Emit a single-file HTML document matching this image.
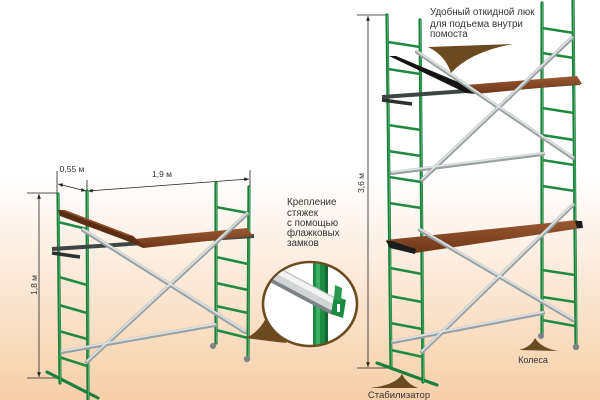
<!DOCTYPE html>
<html><head><meta charset="utf-8">
<style>
html,body{margin:0;padding:0;}
body{width:600px;height:400px;overflow:hidden;background:linear-gradient(to bottom,#ffffff 0px,#ffffff 175px,#fcebdc 270px,#f8dcbf 340px,#f5cfa8 400px);}
svg{position:absolute;left:0;top:0;}
text{font-family:"Liberation Sans",sans-serif;fill:#333;}
</style></head>
<body>
<svg width="600" height="400" viewBox="0 0 600 400" xmlns="http://www.w3.org/2000/svg">
<defs>
<marker id="ar" viewBox="0 0 10 10" refX="10" refY="5" markerWidth="6" markerHeight="6" orient="auto-start-reverse">
<path d="M0,1 L10,5 L0,9 Z" fill="#222"/>
</marker>
<linearGradient id="wood" x1="0" y1="0" x2="0" y2="1">
<stop offset="0" stop-color="#9a5a32"/><stop offset="1" stop-color="#6e3618"/>
</linearGradient>
<linearGradient id="tube" x1="0" y1="0" x2="1" y2="1">
<stop offset="0" stop-color="#f2f2f2"/><stop offset="0.5" stop-color="#d8dadb"/><stop offset="1" stop-color="#8f9597"/>
</linearGradient>
<clipPath id="mag"><ellipse cx="310" cy="304" rx="46" ry="41"/></clipPath>
</defs>

<!-- ===== Dimension lines left ===== -->
<g stroke="#222" stroke-width="0.8" fill="none">
<line x1="57" y1="171" x2="57" y2="193"/>
<line x1="87" y1="180" x2="87" y2="192"/>
<line x1="250" y1="170" x2="250" y2="187"/>
<line x1="58" y1="184" x2="86" y2="191" marker-start="url(#ar)" marker-end="url(#ar)"/>
<line x1="88" y1="191" x2="249" y2="179" marker-start="url(#ar)" marker-end="url(#ar)"/>
<line x1="27" y1="193" x2="58" y2="193"/>
<line x1="27" y1="378" x2="62" y2="378"/>
<line x1="39" y1="194" x2="39" y2="377" marker-start="url(#ar)" marker-end="url(#ar)"/>
<!-- right dims -->
<line x1="357" y1="15" x2="388" y2="15"/>
<line x1="357" y1="368" x2="392" y2="368"/>
<line x1="368" y1="16" x2="368" y2="367" marker-start="url(#ar)" marker-end="url(#ar)"/>
</g>
<text x="72" y="172" font-size="8.5" text-anchor="middle">0,55 м</text>
<text x="162" y="177" font-size="8.5" text-anchor="middle">1,9 м</text>
<text x="0" y="0" font-size="8.5" text-anchor="middle" transform="translate(37,285) rotate(-90)">1,8 м</text>
<text x="0" y="0" font-size="8.5" text-anchor="middle" transform="translate(364,183) rotate(-90)">3,6 м</text>

<!-- ===== LEFT SCAFFOLD ===== -->
<!-- frames -->
<g stroke="#1d7f3c" stroke-width="3.2" stroke-linecap="round">
<line x1="58" y1="194" x2="60" y2="383"/>
<line x1="87" y1="191" x2="88" y2="400"/>
<line x1="216" y1="183" x2="216" y2="343"/>
<line x1="249" y1="187" x2="248" y2="356"/>
<line x1="47" y1="372" x2="98" y2="398"/>
</g>
<g stroke="#1f8a40" stroke-width="2.6">
<line x1="58" y1="222" x2="87" y2="229"/>
<line x1="59" y1="277" x2="87" y2="285"/>
<line x1="59" y1="305" x2="87" y2="313"/>
<line x1="59" y1="331" x2="87" y2="339"/>
<line x1="59" y1="357" x2="87" y2="366"/>
<line x1="216" y1="207" x2="248" y2="213"/>
<line x1="216" y1="257" x2="248" y2="264"/>
<line x1="216" y1="283" x2="248" y2="290"/>
<line x1="216" y1="306" x2="248" y2="313"/>
<line x1="216" y1="330" x2="248" y2="338"/>
</g>
<g stroke="#4fb870" stroke-width="0.8">
<line x1="58.5" y1="194" x2="60.5" y2="383"/>
<line x1="87.5" y1="191" x2="88.5" y2="400"/>
<line x1="216.5" y1="183" x2="216.5" y2="343"/>
<line x1="249.5" y1="187" x2="248.5" y2="356"/>
</g>
<circle cx="213" cy="346" r="3" fill="#7c8486"/>
<circle cx="247" cy="359" r="3.2" fill="#7c8486"/>
<!-- platform -->
<line x1="52" y1="249" x2="254" y2="236" stroke="#3b4645" stroke-width="4"/>
<line x1="52" y1="253" x2="80" y2="257" stroke="#2a3231" stroke-width="3.5"/>
<polygon points="125,240 247,228 253,236 143,248" fill="url(#wood)"/>
<polygon points="58,210 64,210 133,236 146,248 60,216" fill="#5a2e14"/>
<polygon points="60,210 65,210 133,236 128,236" fill="#8a4e2a"/>
<!-- braces -->
<g stroke="#9aa1a2" stroke-width="4" stroke-linecap="round">
<line x1="83" y1="230" x2="245" y2="332"/>
<line x1="87" y1="362" x2="247" y2="214"/>
<line x1="62" y1="352" x2="215" y2="325"/>
</g>
<g stroke="#dde1e1" stroke-width="1.8" stroke-linecap="round">
<line x1="83" y1="229" x2="245" y2="331"/>
<line x1="87" y1="361" x2="247" y2="213"/>
<line x1="62" y1="351" x2="215" y2="324"/>
</g>

<!-- ===== RIGHT SCAFFOLD ===== -->
<g stroke="#1d7f3c" stroke-width="3.2" stroke-linecap="round">
<line x1="387" y1="15" x2="391" y2="367"/>
<line x1="420" y1="20" x2="423" y2="382"/>
<line x1="542" y1="3" x2="542" y2="333"/>
<line x1="573" y1="0" x2="576" y2="345"/>
<line x1="377" y1="363" x2="437" y2="385"/>
</g>
<g stroke="#1f8a40" stroke-width="2.6">
<line x1="388" y1="42" x2="420" y2="47"/>
<line x1="388" y1="69" x2="420" y2="74"/>
<line x1="388" y1="125" x2="421" y2="130"/>
<line x1="388" y1="151" x2="421" y2="156"/>
<line x1="389" y1="177" x2="421" y2="182"/>
<line x1="389" y1="203" x2="421" y2="208"/>
<line x1="390" y1="268" x2="422" y2="274"/>
<line x1="390" y1="296" x2="422" y2="302"/>
<line x1="390" y1="323" x2="422" y2="329"/>
<line x1="391" y1="350" x2="423" y2="357"/>
<line x1="542" y1="28" x2="574" y2="33"/>
<line x1="542" y1="53" x2="574" y2="58"/>
<line x1="542" y1="108" x2="574" y2="113"/>
<line x1="542" y1="135" x2="574" y2="140"/>
<line x1="542" y1="160" x2="574" y2="165"/>
<line x1="542" y1="186" x2="575" y2="191"/>
<line x1="542" y1="270" x2="575" y2="275"/>
<line x1="542" y1="297" x2="575" y2="302"/>
<line x1="542" y1="320" x2="575" y2="326"/>
</g>
<g stroke="#4fb870" stroke-width="0.8">
<line x1="387.5" y1="15" x2="391.5" y2="367"/>
<line x1="420.5" y1="20" x2="423.5" y2="382"/>
<line x1="542.5" y1="3" x2="542.5" y2="333"/>
<line x1="573.5" y1="0" x2="576.5" y2="345"/>
</g>
<circle cx="541" cy="336" r="3" fill="#7c8486"/>
<circle cx="576" cy="347" r="3.2" fill="#7c8486"/>
<!-- upper platform -->
<line x1="382" y1="97" x2="580" y2="83" stroke="#3b4645" stroke-width="4"/>
<line x1="382" y1="100" x2="412" y2="104" stroke="#2a3231" stroke-width="3.5"/>
<polygon points="466,85 577,76 582,84 475,94" fill="url(#wood)"/>
<polygon points="389,56 396,56 470,87 476,94 466,93" fill="#141414"/>
<!-- lower platform -->
<polygon points="386,240 577,220 582,228 415,253 390,247" fill="url(#wood)"/>
<polygon points="386,241 392,241 416,249 415,254 390,248" fill="#1c1c1c"/>
<polygon points="575,221 582,221 583,228 577,228" fill="#1c1c1c"/>
<!-- braces -->
<g stroke="#9aa1a2" stroke-width="4" stroke-linecap="round">
<line x1="417" y1="52" x2="573" y2="158"/>
<line x1="422" y1="180" x2="572" y2="38"/>
<line x1="392" y1="173" x2="543" y2="154"/>
<line x1="420" y1="230" x2="573" y2="320"/>
<line x1="422" y1="352" x2="573" y2="205"/>
<line x1="393" y1="342" x2="543" y2="313"/>
</g>
<g stroke="#dde1e1" stroke-width="1.8" stroke-linecap="round">
<line x1="417" y1="51" x2="573" y2="157"/>
<line x1="422" y1="179" x2="572" y2="37"/>
<line x1="392" y1="172" x2="543" y2="153"/>
<line x1="420" y1="229" x2="573" y2="319"/>
<line x1="422" y1="351" x2="573" y2="204"/>
<line x1="393" y1="341" x2="543" y2="312"/>
</g>

<!-- ===== Pointers ===== -->
<path d="M428,47 L513,44 Q470,52 451,73 Q445,55 428,47 Z" fill="#6b4a20"/>
<path d="M519,350 Q531,347 535,338 Q541,348 558,351 Z" fill="#6b4a20"/>
<path d="M370,388 Q396,385 402,374 Q407,384 418,388 Z" fill="#6b4a20"/>

<!-- ===== Magnifier ===== -->
<path d="M266,318 Q259,332 246,338 Q268,341 287,343 Z" fill="#6b4a20"/>
<ellipse cx="310" cy="304" rx="47" ry="42" fill="#ffffff" stroke="#6b4a20" stroke-width="2.6"/>
<g clip-path="url(#mag)">
<rect x="313" y="255" width="15" height="100" fill="#1c8a42"/>
<rect x="316" y="255" width="4" height="100" fill="#3fae66"/>
<rect x="325" y="255" width="3" height="100" fill="#146a32"/>
<line x1="258" y1="266" x2="333" y2="306" stroke="#7d8486" stroke-width="17" stroke-linecap="round"/>
<line x1="258" y1="264" x2="333" y2="304" stroke="#d2d5d6" stroke-width="13" stroke-linecap="round"/>
<line x1="258" y1="261" x2="333" y2="301" stroke="#f4f4f4" stroke-width="5" stroke-linecap="round"/>
<polygon points="334,296 346,300 343,318 331,314" fill="#1c8a42"/>
<polygon points="335,285 342,288 341,302 334,299" fill="#2a9a50"/>
<rect x="337" y="304" width="3" height="8" fill="#ffffff"/>
</g>

<!-- ===== Labels ===== -->
<g font-size="9.8">
<text x="287" y="205">Крепление</text>
<text x="287" y="216">стяжек</text>
<text x="287" y="226">с помощью</text>
<text x="287" y="236">флажковых</text>
<text x="287" y="246">замков</text>
<text x="430" y="15">Удобный откидной люк</text>
<text x="430" y="27">для подъема внутри</text>
<text x="430" y="37">помоста</text>
</g>
<text x="533" y="363" font-size="9" text-anchor="middle">Колеса</text>
<text x="399" y="398" font-size="9.5" text-anchor="middle">Стабилизатор</text>
</svg>
</body></html>
